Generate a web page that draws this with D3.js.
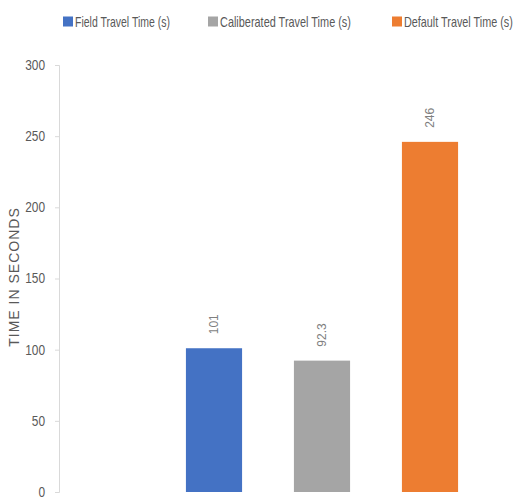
<!DOCTYPE html>
<html><head><meta charset="utf-8">
<script src="https://cdn.jsdelivr.net/npm/d3@7"></script>
<style>body{margin:0;background:#fff;} svg{display:block;}</style>
</head><body>
<svg id="c" width="528" height="501"></svg>
<script>
const seriesNames = ["Field Travel Time (s)", "Caliberated Travel Time (s)", "Default Travel Time (s)"];
const seriesValues = [101, 92.3, 246];
const valueLabels = ["101", "92.3", "246"];
const colors = ["#4472C4", "#A5A5A5", "#ED7D31"];
const yTicks = [0, 50, 100, 150, 200, 250, 300];
const yTitle = "TIME IN SECONDS";

const svg = d3.select("#c");
const y = d3.scaleLinear().domain([0, 300]).range([492, 65]);
const x = d3.scaleBand().domain(seriesNames).range([160, 484]).paddingInner(0.48).paddingOuter(0.24);

const yAxis = d3.axisLeft(y).tickValues(yTicks).tickSize(4).tickPadding(10);
const gy = svg.append("g").attr("transform", "translate(59,0)").call(yAxis);
gy.select(".domain").attr("stroke", "#d9d9d9");
gy.selectAll(".tick line").attr("stroke", "#d9d9d9");
gy.selectAll(".tick text").attr("fill", "#595959").attr("font-family", "Liberation Sans, sans-serif").attr("font-size", 14)
  .attr("transform", "scale(0.85,1)").attr("x", -14 / 0.85);

svg.append("text").attr("transform", "translate(19,277) rotate(-90)")
  .attr("text-anchor", "middle").attr("fill", "#595959")
  .attr("font-family", "Liberation Sans, sans-serif").attr("font-size", 14)
  .attr("letter-spacing", 1).text(yTitle);

svg.selectAll("rect.bar").data(seriesValues).join("rect").attr("class", "bar")
  .attr("x", (d, i) => x(seriesNames[i])).attr("width", x.bandwidth())
  .attr("y", d => y(d)).attr("height", d => y(0) - y(d))
  .attr("fill", (d, i) => colors[i]);

svg.selectAll("text.vl").data(seriesValues).join("text").attr("class", "vl")
  .attr("transform", (d, i) => `translate(${x(seriesNames[i]) + x.bandwidth()/2 + 4},${y(d) - 14}) rotate(-90)`)
  .attr("text-anchor", "start").attr("fill", "#7f7f7f")
  .attr("font-family", "Liberation Sans, sans-serif").attr("font-size", 12)
  .text((d, i) => valueLabels[i]);

const legX = [63, 208, 392];
const legW = [107, 143, 121];
const lg = svg.append("g");
seriesNames.forEach((n, i) => {
  lg.append("rect").attr("x", legX[i]).attr("y", 16.5).attr("width", 10).attr("height", 10).attr("fill", colors[i]);
  const t = lg.append("text").attr("fill", "#595959")
    .attr("font-family", "Liberation Sans, sans-serif").attr("font-size", 14).text(n);
  const w = t.node().getComputedTextLength();
  const s = (legW[i] - 12) / w;
  t.attr("transform", `translate(${legX[i] + 12},27) scale(${s},1)`);
});
</script>
</body></html>
